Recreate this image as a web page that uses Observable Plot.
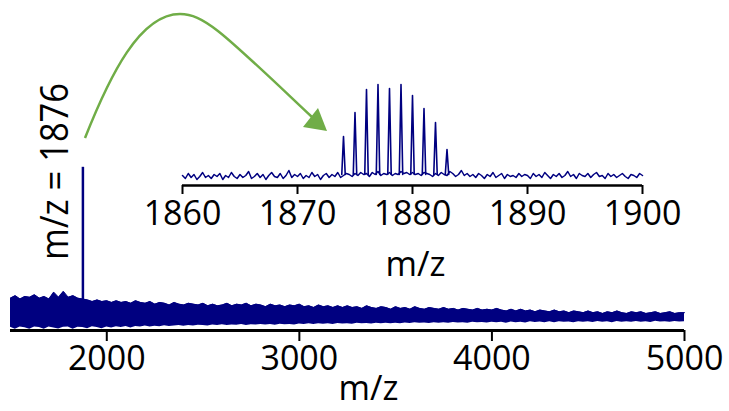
<!DOCTYPE html>
<html><head><meta charset="utf-8">
<script src="https://cdn.jsdelivr.net/npm/d3@7"></script>
<script src="https://cdn.jsdelivr.net/npm/@observablehq/plot@0.6"></script>
<style>
html,body{margin:0;padding:0;background:#fff;}
#wrap{position:relative;width:729px;height:411px;overflow:hidden;background:#fff;}
#wrap svg{position:absolute;left:0;top:0;}
</style></head><body><div id="wrap"></div>
<script>
// ---- main spectrum (m/z 1500–5000): noise band envelope
const mainMz = [1500,1525,1550,1575,1600,1625,1650,1675,1700,1725,
  1750,1775,1800,1825,1850,1875,1900,1925,1950,1975,
  2000,2025,2050,2075,2100,2125,2150,2175,2200,2225,
  2250,2275,2300,2325,2350,2375,2400,2425,2450,2475,
  2500,2525,2550,2575,2600,2625,2650,2675,2700,2725,
  2750,2775,2800,2825,2850,2875,2900,2925,2950,2975,
  3000,3025,3050,3075,3100,3125,3150,3175,3200,3225,
  3250,3275,3300,3325,3350,3375,3400,3425,3450,3475,
  3500,3525,3550,3575,3600,3625,3650,3675,3700,3725,
  3750,3775,3800,3825,3850,3875,3900,3925,3950,3975,
  4000,4025,4050,4075,4100,4125,4150,4175,4200,4225,
  4250,4275,4300,4325,4350,4375,4400,4425,4450,4475,
  4500,4525,4550,4575,4600,4625,4650,4675,4700,4725,
  4750,4775,4800,4825,4850,4875,4900,4925,4950,4975,
  5000];
const mainNoiseHigh = [19,20.5,18.5,20,19.5,21,19,20,18.5,22.5,
  19.5,23,19.5,20.5,19,18.5,18,17,18,17,
  17.5,16.5,17.5,16.5,17,16,17.5,16.5,16,17,
  15.5,16.5,16,15,16.5,15.5,15,16,15.5,15,
  16,14.5,15.5,14.5,15,16,14.5,15.5,15,16,
  14.5,15.5,15,14,15.5,14.5,15,14,15,14.5,
  15.5,14,14.5,13.5,15,14,14.5,13.5,14.5,13.5,
  14.5,13.5,14,13,14.5,13.5,13,14,13.5,12.5,
  14,13,13.5,12.5,14,13,12.5,13.5,13,12.5,
  13.5,12.5,13,12,13,12.5,12,13,12,12.5,
  12,13,12,11.5,12.5,11.5,12.5,11.5,12,11,
  12,11.5,11,12,11,11.5,10.5,11.5,11,10.5,
  11.5,10.5,11,10,11,10.5,11.5,10.5,10,11,
  10.5,11,10,10.5,11,10,10.5,11,10,10.5,
  10.5];
const mainNoiseLow = [1.9,0.8,2.0,1.6,0.7,2.1,1.8,0.8,2.0,1.5,
  0.9,1.9,2.1,0.8,1.9,1.7,1.0,2.2,1.8,1.1,
  2.0,1.4,2.2,1.8,2.4,1.5,2.3,2.1,2.6,2.0,
  2.5,2.2,2.8,2.4,2.6,3.0,2.5,2.9,2.7,3.1,
  3.0,2.7,3.2,3.0,3.4,2.9,3.3,3.1,3.5,3.0,
  3.4,3.2,3.6,3.3,3.5,3.1,3.7,3.4,3.6,3.3,
  3.8,3.5,3.9,3.6,4.0,3.7,3.9,3.6,4.1,3.8,
  4.0,3.7,4.2,3.9,4.1,3.8,4.3,4.0,4.2,3.9,
  4.3,4.0,4.4,4.1,4.5,4.2,4.4,4.1,4.6,4.3,
  4.5,4.2,4.7,4.4,4.6,4.3,4.8,4.5,4.7,4.4,
  4.8,4.5,4.9,4.3,5.0,4.6,4.9,4.4,5.1,4.7,
  5.0,4.6,5.1,4.5,5.2,4.8,5.0,4.6,5.2,4.8,
  5.2,4.7,5.3,4.9,5.1,4.6,5.3,4.9,5.2,4.8,
  5.3,4.9,5.2,4.7,5.4,5.0,5.2,4.8,5.3,5.0,
  5.1];
const mainPeakMz = [1876];
const mainPeakIntensity = [96];
const mainTicks = [2000,3000,4000,5000];

// ---- inset spectrum (m/z 1860–1900)
const insetMz = [
  1860,1860.25,1860.5,1860.75,1861,1861.25,1861.5,1861.75,1862,1862.25,1862.5,1862.75,1863,1863.25,1863.5,1863.75,1864,1864.25,1864.5,1864.75,
  1865,1865.25,1865.5,1865.75,1866,1866.25,1866.5,1866.75,1867,1867.25,1867.5,1867.75,1868,1868.25,1868.5,1868.75,1869,1869.25,1869.5,1869.75,
  1870,1870.25,1870.5,1870.75,1871,1871.25,1871.5,1871.75,1872,1872.25,1872.5,1872.75,1873,1873.25,1873.5,1873.75,1874,1874.25,1874.5,1874.75,
  1875,1875.25,1875.5,1875.75,1876,1876.25,1876.5,1876.75,1877,1877.25,1877.5,1877.75,1878,1878.25,1878.5,1878.75,1879,1879.25,1879.5,1879.75,
  1880,1880.25,1880.5,1880.75,1881,1881.25,1881.5,1881.75,1882,1882.25,1882.5,1882.75,1883,1883.25,1883.5,1883.75,1884,1884.25,1884.5,1884.75,
  1885,1885.25,1885.5,1885.75,1886,1886.25,1886.5,1886.75,1887,1887.25,1887.5,1887.75,1888,1888.25,1888.5,1888.75,1889,1889.25,1889.5,1889.75,
  1890,1890.25,1890.5,1890.75,1891,1891.25,1891.5,1891.75,1892,1892.25,1892.5,1892.75,1893,1893.25,1893.5,1893.75,1894,1894.25,1894.5,1894.75,
  1895,1895.25,1895.5,1895.75,1896,1896.25,1896.5,1896.75,1897,1897.25,1897.5,1897.75,1898,1898.25,1898.5,1898.75,1899,1899.25,1899.5,1899.75,
  1900];
const insetNoise = [
  10,7,12,8,11,6,9,13,8,10,7,11,9,12,6,10,8,13,9,7,
  11,8,10,14,7,9,12,8,11,6,10,13,9,8,12,7,10,15,8,11,
  9,12,7,10,8,13,9,11,6,10,12,8,11,9,13,8,10,12,11,9,
  12,10,13,11,12,9,13,11,14,10,12,11,13,10,12,11,14,12,13,11,
  13,11,12,10,13,12,11,9,12,10,13,11,10,14,12,9,11,15,10,12,
  9,11,8,12,10,7,11,9,13,8,10,12,7,11,9,10,8,12,9,11,
  10,7,12,9,11,8,13,10,7,11,9,12,8,10,14,9,11,7,12,10,
  9,12,8,11,13,9,10,7,12,9,11,8,10,12,9,7,11,10,8,12,
  10];
const insetPeakMz = [1874,1875,1876,1877,1878,1879,1880,1881,1882,1883];
const insetPeakIntensity = [49,73,96,101,97,101,90,77,63,36];
const insetTicks = [1860,1870,1880,1890,1900];

const navy = "#000080";
const green = "#70AD47";
const font = "'Open Sans', 'Noto Sans', sans-serif";
const wrap = document.getElementById("wrap");

const mainData = mainMz.map((mz, i) => ({mz, lo: mainNoiseLow[i], hi: mainNoiseHigh[i]}));
const mainPeaks = mainPeakMz.map((mz, i) => ({mz, base: 10, v: mainPeakIntensity[i]}));

const main = Plot.plot({
  width: 729, height: 411,
  marginLeft: 10, marginRight: 45, marginTop: 160, marginBottom: 81,
  style: {fontFamily: font, fontSize: "34px", color: "#000", background: "#fff"},
  x: {domain: [1500, 5000]},
  y: {domain: [0, 100], axis: null},
  marks: [
    Plot.areaY(mainData, {x: "mz", y1: "lo", y2: "hi", fill: navy}),
    Plot.line(mainData, {x: "mz", y: "hi", stroke: navy, strokeWidth: 1}),
    Plot.ruleX(mainPeaks, {x: "mz", y1: "base", y2: "v", stroke: navy, strokeWidth: 2.5}),
    Plot.ruleY([0], {stroke: "#000", strokeWidth: 3}),
    Plot.axisX({ticks: mainTicks, tickSize: 11, tickPadding: 4, tickFormat: d => String(d),
      fontSize: 34, strokeWidth: 2, label: null}),
    Plot.text(["m/z"], {text: d => d, frameAnchor: "bottom", lineAnchor: "bottom",
      dy: 69, dx: 21, fontSize: 34, fill: "#000"})
  ]
});
wrap.appendChild(main);

const insetData = insetMz.map((mz, i) => ({mz, v: insetNoise[i]}));
const peakShapes = [];
insetPeakMz.forEach((p, i) => {
  peakShapes.push({peak: p, mz: p - 0.15, v: 11});
  peakShapes.push({peak: p, mz: p, v: insetPeakIntensity[i]});
  peakShapes.push({peak: p, mz: p + 0.15, v: 11});
});

const inset = Plot.plot({
  width: 729, height: 411,
  marginLeft: 182, marginRight: 87, marginTop: 85, marginBottom: 226,
  style: {fontFamily: font, fontSize: "34px", color: "#000", background: "transparent"},
  x: {domain: [1860, 1900]},
  y: {domain: [0, 100], axis: null},
  marks: [
    Plot.line(insetData, {x: "mz", y: "v", stroke: navy, strokeWidth: 1.5}),
    Plot.line(peakShapes, {x: "mz", y: "v", z: "peak", stroke: navy, strokeWidth: 1.6}),
    Plot.ruleY([0], {stroke: "#000", strokeWidth: 2.5}),
    Plot.axisX({ticks: insetTicks, tickSize: 9, tickPadding: 6, tickFormat: d => String(d),
      fontSize: 34, strokeWidth: 2, label: null}),
    Plot.text(["m/z"], {text: d => d, frameAnchor: "bottom", lineAnchor: "bottom",
      dy: 90, dx: 3, fontSize: 34, fill: "#000"})
  ]
});
wrap.appendChild(inset);

// ---- annotation overlay: curved arrow and rotated label
const svg = d3.select(wrap).append("svg")
  .attr("width", 729).attr("height", 411)
  .style("font-family", font);
svg.append("path")
  .attr("d", "M85,138 C110,75 140,14 180,14 C205,14 225,35 312,117")
  .attr("fill", "none").attr("stroke", green).attr("stroke-width", 2.5);
svg.append("path")
  .attr("d", "M327,131 L303,127 L318,108 Z")
  .attr("fill", green);
svg.append("text")
  .attr("transform", "translate(68,260) rotate(-90)")
  .attr("font-size", 38)
  .attr("textLength", 177)
  .attr("lengthAdjust", "spacingAndGlyphs")
  .attr("fill", "#000")
  .text("m/z = 1876");
</script></body></html>
